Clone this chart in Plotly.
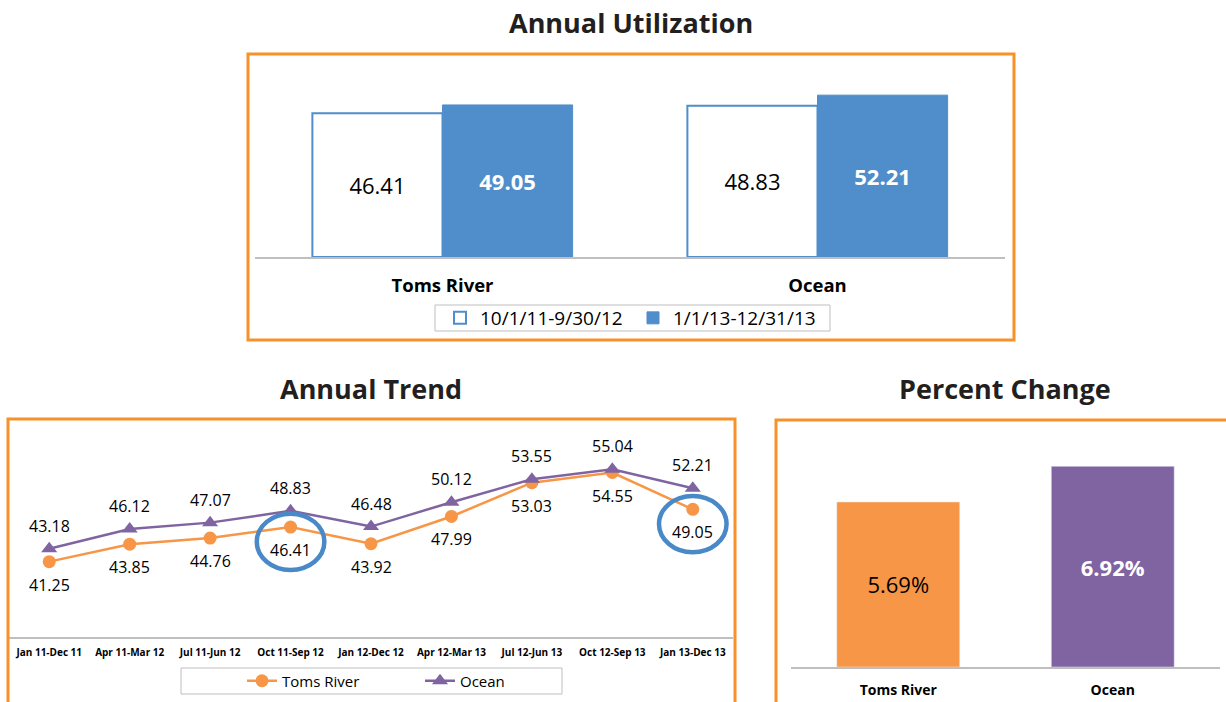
import plotly.graph_objects as go

# ---- data -------------------------------------------------------------
sites = ["Toms River", "Ocean"]
util_prior = [46.41, 48.83]
util_current = [49.05, 52.21]
prior_label = "10/1/11-9/30/12"
current_label = "1/1/13-12/31/13"

periods = ["Jan 11-Dec 11", "Apr 11-Mar 12", "Jul 11-Jun 12", "Oct 11-Sep 12",
           "Jan 12-Dec 12", "Apr 12-Mar 13", "Jul 12-Jun 13", "Oct 12-Sep 13",
           "Jan 13-Dec 13"]
toms_trend = [41.25, 43.85, 44.76, 46.41, 43.92, 47.99, 53.03, 54.55, 49.05]
ocean_trend = [43.18, 46.12, 47.07, 48.83, 46.48, 50.12, 53.55, 55.04, 52.21]
highlight_periods = [3, 8]  # Toms River points circled on the trend

pct_change = [5.69, 6.92]

# ---- styling ----------------------------------------------------------
W, H = 1226, 702
FONT = "Open Sans"
ORANGE_BORDER = "#F7922A"
BLUE = "#4F8DCB"
ORANGE = "#F79646"
PURPLE = "#8064A2"
AXIS_GRAY = "#BFBFBF"
CIRCLE_BLUE = "#4A89C8"


def xd(a, b):
    return [a / W, b / W]


def yd(top, bottom):
    return [1 - bottom / H, 1 - top / H]


def px(x):
    return x / W


def py(y):
    return 1 - y / H


fig = go.Figure()

# Annual utilization: two grouped bars per site
bw = 0.347
fig.add_trace(go.Bar(
    x=sites, y=util_prior, name=prior_label, xaxis="x", yaxis="y",
    width=bw, offset=-bw,
    marker=dict(color="white", line=dict(color=BLUE, width=2)),
    texttemplate="%{y:.2f}", textposition="inside", insidetextanchor="middle",
    textangle=0, textfont=dict(family=FONT, size=22, color="black"),
    legend="legend", hoverinfo="skip",
))
fig.add_trace(go.Bar(
    x=sites, y=util_current, name=current_label, xaxis="x", yaxis="y",
    width=bw, offset=0,
    marker=dict(color=BLUE, line=dict(color=BLUE, width=1)),
    texttemplate="<b>%{y:.2f}</b>", textposition="inside", insidetextanchor="middle",
    textangle=0, textfont=dict(family=FONT, size=22, color="white"),
    legend="legend", hoverinfo="skip",
))

# Annual trend lines
fig.add_trace(go.Scatter(
    x=periods, y=toms_trend, name="Toms River", xaxis="x2", yaxis="y2",
    mode="lines+markers",
    line=dict(color=ORANGE, width=2.5),
    marker=dict(symbol="circle", size=13, color=ORANGE),
    legend="legend2", hoverinfo="skip",
))
fig.add_trace(go.Scatter(
    x=periods, y=ocean_trend, name="Ocean", xaxis="x2", yaxis="y2",
    mode="lines+markers",
    line=dict(color=PURPLE, width=2.5),
    marker=dict(symbol="triangle-up", size=14, color=PURPLE),
    legend="legend2", hoverinfo="skip",
))

# Percent change bars
pw = 0.573
fig.add_trace(go.Bar(
    x=sites, y=pct_change, xaxis="x3", yaxis="y3",
    width=pw, offset=-pw / 2,
    marker=dict(color=[ORANGE, PURPLE]),
    texttemplate=["%{y:.2f}%", "<b>%{y:.2f}%</b>"],
    textposition="inside", insidetextanchor="middle", textangle=0,
    textfont=dict(family=FONT, size=22, color=["black", "white"]),
    showlegend=False, hoverinfo="skip",
))

tick_common = dict(ticks="outside", tickcolor="rgba(0,0,0,0)", showgrid=False,
                   zeroline=False, showline=True, linecolor=AXIS_GRAY, linewidth=1.5,
                   fixedrange=True)
y_common = dict(visible=False, showgrid=False, zeroline=False, fixedrange=True)

# Highlight ellipses around circled Toms River points
shapes = []
for i in highlight_periods:
    v = toms_trend[i]
    shapes.append(dict(type="circle", xref="x2", yref="y2",
                       x0=i - 0.42, x1=i + 0.42, y0=v - 6.4, y1=v + 2.0,
                       line=dict(color=CIRCLE_BLUE, width=4.5), layer="above"))

# Panel borders and legend frames
shapes += [
    dict(type="rect", xref="paper", yref="paper", x0=px(248), x1=px(1014),
         y0=py(340), y1=py(54), line=dict(color=ORANGE_BORDER, width=3)),
    dict(type="rect", xref="paper", yref="paper", x0=px(8), x1=px(735),
         y0=py(712), y1=py(419), line=dict(color=ORANGE_BORDER, width=3)),
    dict(type="rect", xref="paper", yref="paper", x0=px(776), x1=px(1232),
         y0=py(712), y1=py(420), line=dict(color=ORANGE_BORDER, width=3)),
    dict(type="rect", xref="paper", yref="paper", x0=px(435), x1=px(830),
         y0=py(331), y1=py(305), line=dict(color="#BFBFBF", width=1)),
    dict(type="rect", xref="paper", yref="paper", x0=px(181), x1=px(562),
         y0=py(694), y1=py(668), line=dict(color="#BFBFBF", width=1)),
]

titles = [("Annual Utilization", 631, 22), ("Annual Trend", 371, 388),
          ("Percent Change", 1005, 388)]
annotations = [dict(text=t, x=px(x), y=py(y), xref="paper", yref="paper",
                    showarrow=False, xanchor="center", yanchor="middle",
                    font=dict(family=FONT, size=27, color="#231F20", weight="bold"))
               for t, x, y in titles]

# Value labels on the trend: Toms River below its points, Ocean above
label_font = dict(family=FONT, size=16, color="black")
for series, shift in ((toms_trend, -23), (ocean_trend, 23)):
    for p, v in zip(periods, series):
        annotations.append(dict(text=f"{v:.2f}", x=p, y=v, xref="x2", yref="y2",
                                showarrow=False, xanchor="center", yanchor="middle",
                                yshift=shift, font=label_font))

fig.update_layout(
    width=W, height=H, autosize=False,
    margin=dict(l=0, r=0, t=0, b=0),
    paper_bgcolor="white", plot_bgcolor="white",
    font=dict(family=FONT, color="black"),
    barmode="overlay",
    xaxis=dict(domain=xd(255, 1005), anchor="y", ticklen=11,
               tickfont=dict(family=FONT, size=18.5, color="black", weight="bold"),
               **tick_common),
    yaxis=dict(domain=yd(71, 257), range=[0, 60], anchor="x", **y_common),
    xaxis2=dict(domain=xd(9, 733), anchor="y2", ticklen=5, range=[-0.5, 8.5],
                tickfont=dict(family=FONT, size=10, color="black", weight="bold"),
                **tick_common),
    yaxis2=dict(domain=yd(436, 637), range=[30, 60], anchor="x2", **y_common),
    xaxis3=dict(domain=xd(791, 1220), anchor="y3", ticklen=9,
                tickfont=dict(family=FONT, size=14, color="black", weight="bold"),
                **tick_common),
    yaxis3=dict(domain=yd(435, 667), range=[0, 8], anchor="x3", **y_common),
    legend=dict(orientation="h", x=px(440), y=py(318), xanchor="left",
                yanchor="middle", font=dict(family=FONT, size=19, color="black"),
                bgcolor="rgba(0,0,0,0)", borderwidth=0, entrywidth=148,
                itemclick=False, itemdoubleclick=False),
    legend2=dict(orientation="h", x=px(242), y=py(681), xanchor="left",
                 yanchor="middle", font=dict(family=FONT, size=15, color="black"),
                 bgcolor="rgba(0,0,0,0)", borderwidth=0, entrywidth=133,
                 itemclick=False, itemdoubleclick=False),
    shapes=shapes,
    annotations=annotations,
    showlegend=True,
)

fig.write_html("out.html")
